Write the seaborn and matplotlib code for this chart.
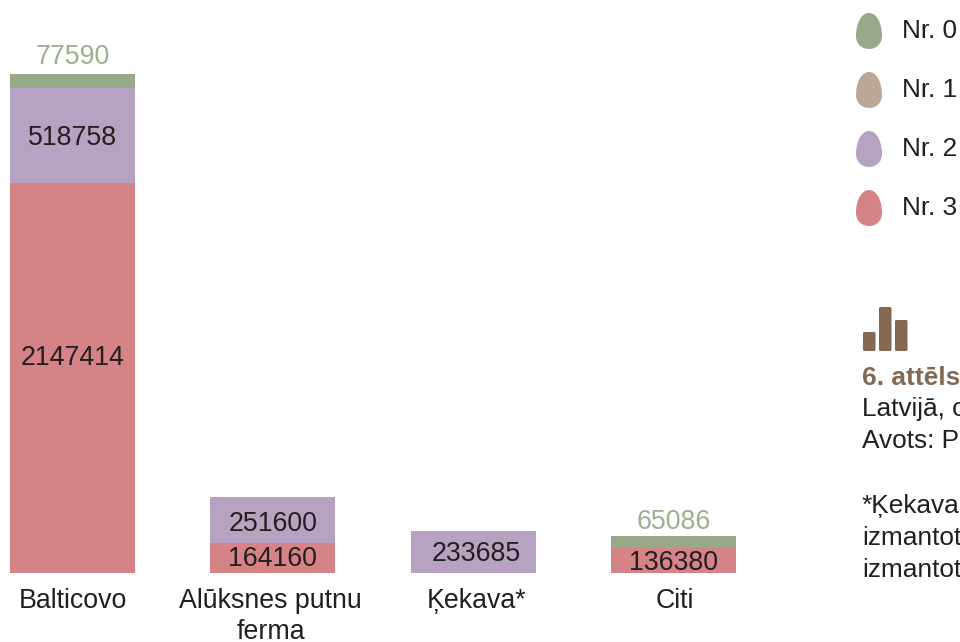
#!/usr/bin/env python3
"""Stacked bars of laying hens by housing type, with egg legend and clipped caption."""

import matplotlib
matplotlib.use("Agg")
import matplotlib.pyplot as plt
from matplotlib.patches import FancyBboxPatch, PathPatch
from matplotlib.path import Path
from matplotlib.transforms import ScaledTranslation
import numpy as np
import seaborn as sns

# ============================================================================
# DATA
# ============================================================================

categories = ["Balticovo", "Alūksnes putnu\nferma", "Ķekava*", "Citi"]
nr3 = [2147414, 164160, 0, 136380]
nr2 = [518758, 251600, 233685, 0]
nr1 = [0, 0, 0, 0]
nr0 = [77590, 0, 0, 65086]

legend_labels = ["Nr. 0", "Nr. 1", "Nr. 2", "Nr. 3"]
caption_title = "6. attēls"
caption_lines = ["Latvijā, c", "Avots: P", "*Ķekava", "izmantot", "izmantot"]

# ============================================================================
# STYLE
# ============================================================================

GREEN = "#97a988"
TAN = "#bba797"
PURPLE = "#b8a2c1"
RED = "#d68387"
BROWN = "#836953"
INK = "#231f20"
GREEN_TEXT = "#9bb08f"
FONT_SIZE = 19.3
SIDE_FONT_SIZE = 18.9

W, H = 960, 642
BASE_Y = 573          # pixel row of the bar baseline
PX_PER_UNIT = 1 / 5500

sns.set_theme(style="white")
plt.rcParams["font.family"] = ["Liberation Sans", "DejaVu Sans"]

fig = plt.figure(figsize=(W / 100, H / 100), dpi=100)
ax = fig.add_axes([0, (H - BASE_Y) / H, 1, BASE_Y / H])

# ============================================================================
# STACKED BARS
# ============================================================================

bottom = np.zeros(len(categories))
for vals, col in zip([nr3, nr2, nr1, nr0], [RED, PURPLE, TAN, GREEN]):
    sns.barplot(x=categories, y=vals, bottom=bottom, color=col, width=0.624,
                saturation=1, linewidth=0, ax=ax)
    bottom = bottom + np.array(vals)

# bar centres sit 200.3 px apart, first one at x = 72.5 px
ax.set_xlim(-72.5 / 200.3, (W - 72.5) / 200.3)
ax.set_ylim(0, BASE_Y / PX_PER_UNIT)
ax.set_yticks([])
ax.set_xlabel("")
ax.set_ylabel("")
ax.tick_params(axis="x", length=0, pad=11, labelsize=FONT_SIZE, labelcolor=INK)
for lab, dx in zip(ax.get_xticklabels(), [0, -2, 3, 1]):
    lab.set_linespacing(1.24)
    lab.set_transform(lab.get_transform() + ScaledTranslation(dx / 100, 0, fig.dpi_scale_trans))
sns.despine(ax=ax, left=True, bottom=True)


def value_label(i, y, val, dx=0, dy=0, color=INK, va="center"):
    ax.annotate(str(val), xy=(i, y), xytext=(dx, dy), textcoords="offset pixels",
                ha="center", va=va, fontsize=FONT_SIZE, color=color)


# labels inside the segments, nudged a few pixels to where the reference has them
value_label(0, nr3[0] / 2, nr3[0], dy=20)
value_label(0, nr3[0] + nr2[0] / 2, nr2[0], dy=-3)
value_label(1, nr3[1] / 2, nr3[1], dy=-1)
value_label(1, nr3[1] + nr2[1] / 2, nr2[1], dy=-4)
value_label(2, nr2[2] / 2, nr2[2], dx=3, dy=-2)
value_label(3, nr3[3] / 2, nr3[3], dy=-2)
value_label(0, bottom[0], nr0[0], dy=4, color=GREEN_TEXT, va="bottom")
value_label(3, bottom[3], nr0[3], dy=1, color=GREEN_TEXT, va="bottom")

# ============================================================================
# EGG LEGEND AND CAPTION (overlay in pixel coordinates)
# ============================================================================

over = fig.add_axes([0, 0, 1, 1], facecolor="none")
over.set_xlim(0, W)
over.set_ylim(H, 0)
over.axis("off")


def egg(cx, top, color):
    w, h = 13, 36
    verts = [
        (cx, top),
        (cx + 8, top), (cx + w, top + 11), (cx + w, top + 23),
        (cx + w, top + 31), (cx + 7, top + h), (cx, top + h),
        (cx - 7, top + h), (cx - w, top + 31), (cx - w, top + 23),
        (cx - w, top + 11), (cx - 8, top), (cx, top),
    ]
    codes = [Path.MOVETO] + [Path.CURVE4] * 12
    over.add_patch(PathPatch(Path(verts, codes), facecolor=color, edgecolor="none"))


for lab, col, top in zip(legend_labels, [GREEN, TAN, PURPLE, RED], [13, 72, 131, 190]):
    egg(869, top, col)
    over.text(902, top + 18, lab, fontsize=SIDE_FONT_SIZE, color=INK, va="center", ha="left")

# small bar-chart icon
for x0, y0 in [(863, 332), (879, 307), (895, 320)]:
    over.add_patch(FancyBboxPatch((x0 + 1, y0 + 1), 10.5, 351 - y0 - 2,
                                  boxstyle="round,pad=1,rounding_size=1.5",
                                  facecolor=BROWN, edgecolor="none"))

over.text(862, 378, caption_title, fontsize=SIDE_FONT_SIZE, fontweight="bold", color=BROWN,
          va="center", ha="left")
for line, y in zip(caption_lines, [409, 441, 506, 538, 570]):
    over.text(862, y, line, fontsize=SIDE_FONT_SIZE, color=INK, va="center", ha="left")

fig.savefig("out.png", dpi=100, facecolor="white")
